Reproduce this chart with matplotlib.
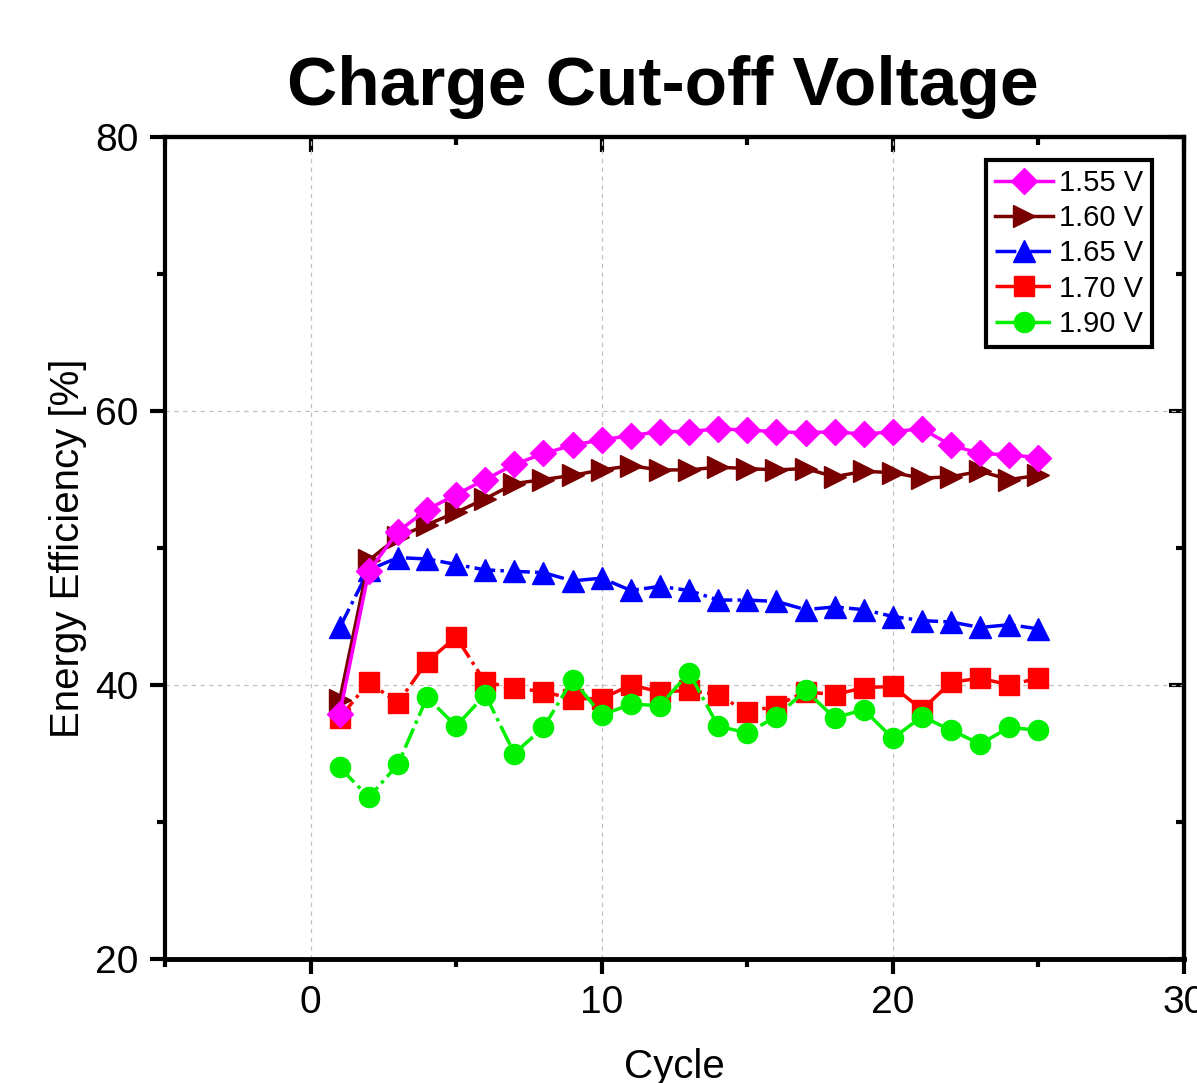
import matplotlib
matplotlib.use("Agg")
import matplotlib.pyplot as plt
from matplotlib.ticker import MultipleLocator
import numpy as np

plt.rcParams['font.family'] = ['Liberation Sans', 'DejaVu Sans']

# Energy efficiency [%] per cycle for each charge cut-off voltage
cycles = np.arange(1, 26)
ee_155 = [37.9, 48.3, 51.2, 52.8, 53.9, 55.0, 56.1, 56.9, 57.5, 57.9, 58.2, 58.5, 58.5,
          58.7, 58.6, 58.5, 58.4, 58.5, 58.3, 58.5, 58.7, 57.5, 56.9, 56.8, 56.6]
ee_160 = [38.9, 49.1, 50.8, 51.7, 52.6, 53.6, 54.7, 55.0, 55.3, 55.7, 56.0, 55.7, 55.7,
          55.9, 55.8, 55.7, 55.8, 55.2, 55.6, 55.5, 55.1, 55.2, 55.6, 55.0, 55.3]
ee_165 = [44.2, 48.4, 49.3, 49.2, 48.8, 48.4, 48.3, 48.2, 47.6, 47.8, 46.9, 47.2, 46.9,
          46.2, 46.2, 46.1, 45.5, 45.7, 45.5, 45.0, 44.7, 44.6, 44.2, 44.4, 44.1]
ee_170 = [37.6, 40.2, 38.7, 41.7, 43.5, 40.2, 39.8, 39.5, 39.0, 39.0, 40.0, 39.5, 39.6,
          39.3, 38.0, 38.5, 39.5, 39.3, 39.8, 39.9, 38.2, 40.2, 40.5, 40.0, 40.5]
ee_190 = [34.0, 31.8, 34.2, 39.1, 37.0, 39.3, 35.0, 36.9, 40.4, 37.8, 38.6, 38.5, 40.9,
          37.0, 36.5, 37.7, 39.6, 37.6, 38.2, 36.1, 37.7, 36.7, 35.7, 36.9, 36.7]

labels = ["1.55 V", "1.60 V", "1.65 V", "1.70 V", "1.90 V"]

fig = plt.figure(figsize=(11.97, 10.83), dpi=100)
ax = fig.add_axes([165 / 1197, 124 / 1083, 1019 / 1197, 822 / 1083])

dashdot = (0, (6, 1.5, 1, 1.5))

ax.plot(cycles, ee_155, color="#FF00FF", marker="D", ms=13.5, lw=2.5,
        mec="#FF00FF", label=labels[0], zorder=7)
ax.plot(cycles, ee_160, color="#7A0000", marker=">", ms=16, lw=2.5,
        mec="#7A0000", label=labels[1], zorder=6)
ax.plot(cycles, ee_165, color="#0000FF", marker="^", ms=16, lw=2.5, ls=dashdot,
        mec="#0000FF", label=labels[2], zorder=5)
ax.plot(cycles, ee_170, color="#FF0000", marker="s", ms=14, lw=2.5, ls=dashdot,
        mec="#FF0000", label=labels[3], zorder=3)
ax.plot(cycles, ee_190, color="#00F000", marker="o", ms=14.5, lw=2.5, ls=dashdot,
        mec="#00F000", label=labels[4], zorder=4)

ax.set_xlim(-5, 30)
ax.set_ylim(20, 80)
ax.set_xticks([0, 10, 20, 30])
ax.set_yticks([20, 40, 60, 80])
ax.xaxis.set_minor_locator(MultipleLocator(5))
ax.yaxis.set_minor_locator(MultipleLocator(10))

ax.grid(True, which="major", color="#c0c0c0", lw=0.9, ls=(0, (3.5, 3.5)))

for s in ax.spines.values():
    s.set_linewidth(3)
ax.spines["bottom"].set_linewidth(3.5)

ax.tick_params(which="both", direction="out", top=False, right=False,
               width=3, labelsize=28, pad=8)
ax.tick_params(which="major", length=11)
ax.tick_params(which="minor", length=5.5)

# inward ticks on the right and top sides
sec_y = ax.secondary_yaxis("right")
sec_y.set_yticks([20, 40, 60, 80])
sec_y.yaxis.set_minor_locator(MultipleLocator(10))
sec_y.tick_params(which="both", direction="in", width=3, labelright=False)
sec_y.tick_params(which="major", length=11)
sec_y.tick_params(which="minor", length=5.5)
sec_y.spines["right"].set_linewidth(3)

sec_x = ax.secondary_xaxis("top")
sec_x.set_xticks([0, 10, 20, 30])
sec_x.xaxis.set_minor_locator(MultipleLocator(5))
sec_x.tick_params(which="both", direction="in", width=3, labeltop=False)
sec_x.tick_params(which="major", length=11)
sec_x.tick_params(which="minor", length=5.5)
sec_x.spines["top"].set_linewidth(3)

ax.set_xlabel("Cycle", fontsize=29, labelpad=19)
ax.set_ylabel("Energy Efficiency [%]", fontsize=29, labelpad=6)

fig.text(663 / 1197, 1 - 105 / 1083, "Charge Cut-off Voltage", fontsize=50,
         fontweight="bold", ha="center", va="baseline")

leg = ax.legend(loc="upper right", bbox_to_anchor=(0.9686, 0.972), borderaxespad=0,
                fontsize=21, handlelength=2.0, handletextpad=0.2, labelspacing=0.25,
                borderpad=0.3, fancybox=False, framealpha=1, edgecolor="black")
leg.get_frame().set_linewidth(3)

fig.savefig("out.png", dpi=100)
